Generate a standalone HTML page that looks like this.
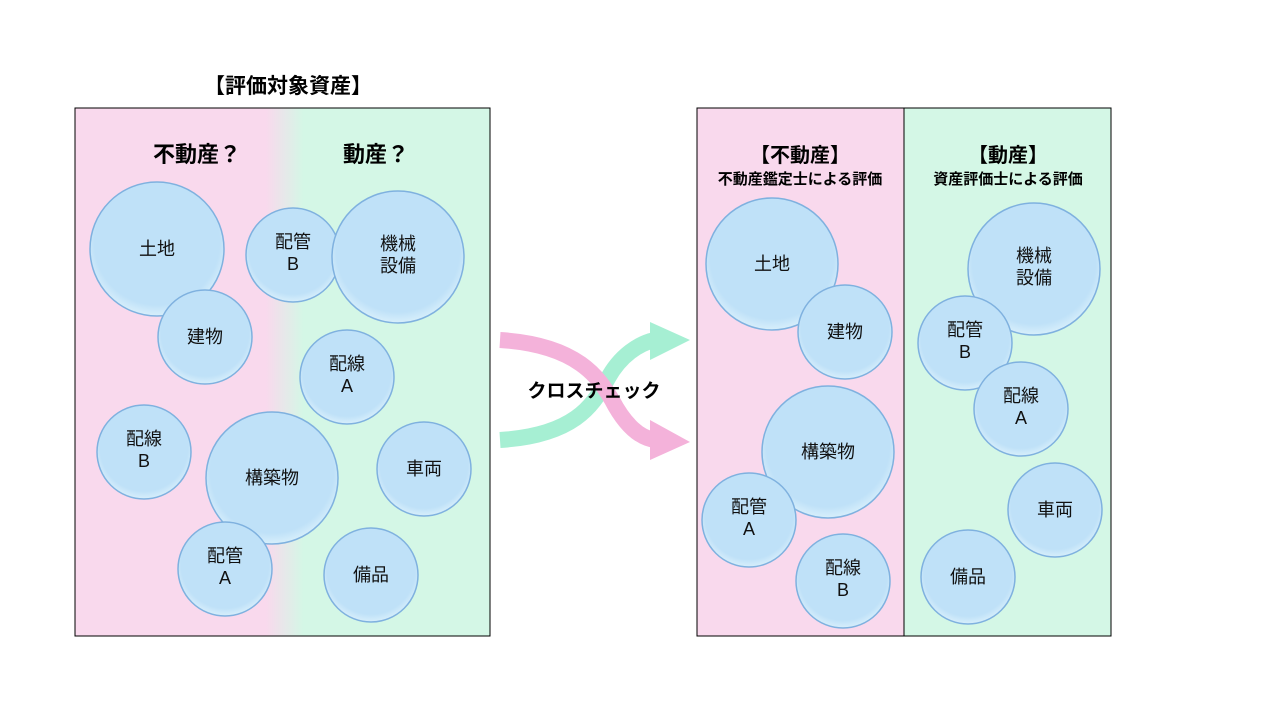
<!DOCTYPE html>
<html><head><meta charset="utf-8"><style>
html,body{margin:0;padding:0;background:#fff;}
svg{display:block;font-family:"Liberation Sans","Noto Sans CJK JP",sans-serif;}
</style></head><body>
<svg width="1280" height="720" viewBox="0 0 1280 720" xmlns="http://www.w3.org/2000/svg">
<defs>
<linearGradient id="lg" x1="75" y1="0" x2="490" y2="0" gradientUnits="userSpaceOnUse">
<stop offset="0" stop-color="#f9d9ed"/>
<stop offset="0.46" stop-color="#f9d9ed"/>
<stop offset="0.55" stop-color="#d4f7e6"/>
<stop offset="1" stop-color="#d4f7e6"/>
</linearGradient>
<radialGradient id="cg" cx="0.5" cy="0.45" r="0.55">
<stop offset="0.85" stop-color="#bfe1f8"/>
<stop offset="1" stop-color="#d8effb"/>
</radialGradient>
</defs>
<text x="288" y="93" font-size="21" font-weight="bold" text-anchor="middle">【評価対象資産】</text>
<rect x="75" y="108" width="415" height="528" fill="url(#lg)" stroke="#000" stroke-width="1"/>
<text x="197" y="162" font-size="22" font-weight="bold" text-anchor="middle">不動産？</text>
<text x="376" y="162" font-size="22" font-weight="bold" text-anchor="middle">動産？</text>
<rect x="697" y="108" width="207" height="528" fill="#f9d9ed" stroke="#000"/>
<rect x="904" y="108" width="207" height="528" fill="#d4f7e6" stroke="#000"/>
<text x="800" y="162" font-size="20" font-weight="bold" text-anchor="middle">【不動産】</text>
<text x="800" y="184" font-size="15" font-weight="bold" text-anchor="middle">不動産鑑定士による評価</text>
<text x="1008" y="162" font-size="20" font-weight="bold" text-anchor="middle">【動産】</text>
<text x="1008" y="184" font-size="15" font-weight="bold" text-anchor="middle">資産評価士による評価</text>
<path d="M500,440 C580,435 595,400 607,380 C620,355 640,343 655,340" fill="none" stroke="#a6efd3" stroke-width="16"/>
<polygon points="650,322 690,340 650,360" fill="#a6efd3"/>
<path d="M500,340 C580,345 600,380 612,400 C625,425 640,438 655,440" fill="none" stroke="#f4b2da" stroke-width="16"/>
<polygon points="650,420 690,442 650,460" fill="#f4b2da"/>
<text x="594" y="397" font-size="19" font-weight="bold" text-anchor="middle">クロスチェック</text>
<g fill="url(#cg)" stroke="#7fb1df" stroke-width="1.5">
<circle cx="157" cy="249" r="67"/><circle cx="205" cy="337" r="47"/>
<circle cx="293" cy="255" r="47"/><circle cx="398" cy="257" r="66"/>
<circle cx="347" cy="377" r="47"/><circle cx="144" cy="452" r="47"/>
<circle cx="272" cy="478" r="66"/><circle cx="424" cy="469" r="47"/>
<circle cx="225" cy="569" r="47"/><circle cx="371" cy="575" r="47"/>
<circle cx="772" cy="264" r="66"/><circle cx="845" cy="332" r="47"/>
<circle cx="828" cy="452" r="66"/><circle cx="749" cy="520" r="47"/>
<circle cx="843" cy="581" r="47"/>
<circle cx="1034" cy="269" r="66"/><circle cx="965" cy="343" r="47"/>
<circle cx="1021" cy="409" r="47"/><circle cx="1055" cy="510" r="47"/>
<circle cx="968" cy="577" r="47"/>
</g>
<g font-size="18" text-anchor="middle" fill="#111">
<text x="157" y="255">土地</text><text x="205" y="343">建物</text>
<text x="293" y="248">配管</text><text x="293" y="270">B</text>
<text x="398" y="250">機械</text><text x="398" y="272">設備</text>
<text x="347" y="370">配線</text><text x="347" y="392">A</text>
<text x="144" y="445">配線</text><text x="144" y="467">B</text>
<text x="272" y="484">構築物</text><text x="424" y="475">車両</text>
<text x="225" y="562">配管</text><text x="225" y="584">A</text>
<text x="371" y="581">備品</text>
<text x="772" y="270">土地</text><text x="845" y="338">建物</text>
<text x="828" y="458">構築物</text>
<text x="749" y="513">配管</text><text x="749" y="535">A</text>
<text x="843" y="574">配線</text><text x="843" y="596">B</text>
<text x="1034" y="262">機械</text><text x="1034" y="284">設備</text>
<text x="965" y="336">配管</text><text x="965" y="358">B</text>
<text x="1021" y="402">配線</text><text x="1021" y="424">A</text>
<text x="1055" y="516">車両</text><text x="968" y="583">備品</text>
</g>
</svg>
</body></html>
